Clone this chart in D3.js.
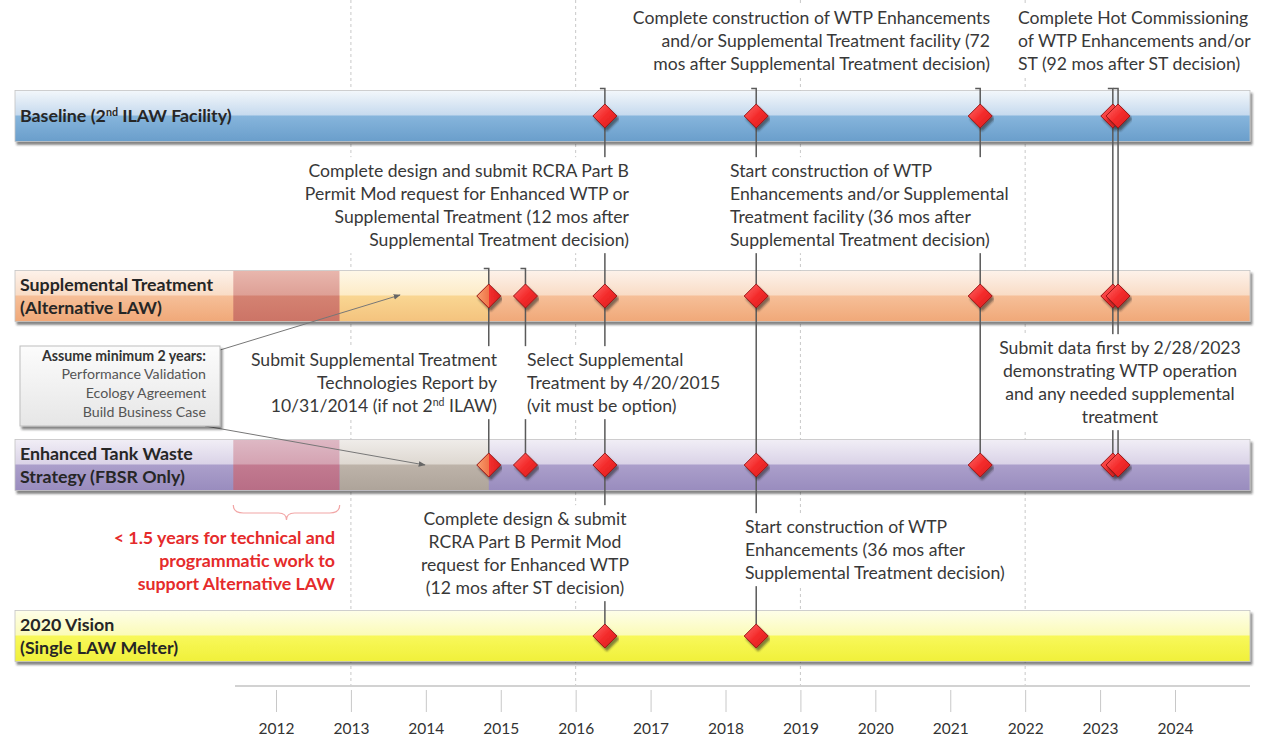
<!DOCTYPE html>
<html>
<head>
<meta charset="utf-8">
<script src="https://cdn.jsdelivr.net/npm/d3@7"></script>
<style>
  body { margin: 0; background: #fff; }
  svg { font-family: Lato, "Open Sans", sans-serif; }
</style>
</head>
<body>
<svg id="chart" width="1261" height="740"></svg>
<script>
// ---- data ----
const years = [2012, 2013, 2014, 2015, 2016, 2017, 2018, 2019, 2020, 2021, 2022, 2023, 2024];
const gridYears = [2013, 2016, 2019, 2022];

const tracks = ["Baseline", "Supplemental Treatment", "Enhanced Tank Waste Strategy", "2020 Vision"];
const trackLabels = [
  ["Baseline (2^nd ILAW Facility)"],
  ["Supplemental Treatment", "(Alternative LAW)"],
  ["Enhanced Tank Waste", "Strategy (FBSR Only)"],
  ["2020 Vision", "(Single LAW Melter)"]
];

// milestone dates (decimal years) and the tracks each one sits on
const milestoneDates = [2014.84, 2015.33, 2016.39, 2018.41, 2021.40, 2023.17, 2023.24];
const milestoneTracks = [
  ["Supplemental Treatment", "Enhanced Tank Waste Strategy"],
  ["Supplemental Treatment", "Enhanced Tank Waste Strategy"],
  ["Baseline", "Supplemental Treatment", "Enhanced Tank Waste Strategy", "2020 Vision"],
  ["Baseline", "Supplemental Treatment", "Enhanced Tank Waste Strategy", "2020 Vision"],
  ["Baseline", "Supplemental Treatment", "Enhanced Tank Waste Strategy"],
  ["Baseline", "Supplemental Treatment", "Enhanced Tank Waste Strategy"],
  ["Baseline", "Supplemental Treatment", "Enhanced Tank Waste Strategy"]
];
const partialMilestone = 2014.84;   // drawn half faded on the alternative tracks

const workPeriod = [2011.43, 2012.85];        // < 1.5 years technical work
const validationPeriod = [2012.85, 2014.84];  // minimum 2 years

const annotationTexts = [
  ["Complete construction of WTP Enhancements", "and/or Supplemental Treatment facility (72", "mos after Supplemental Treatment decision)"],
  ["Complete Hot Commissioning", "of WTP Enhancements and/or", "ST (92 mos after ST decision)"],
  ["Complete design and submit RCRA Part B", "Permit Mod request for Enhanced WTP or", "Supplemental Treatment (12 mos after", "Supplemental Treatment decision)"],
  ["Start construction of WTP", "Enhancements and/or Supplemental", "Treatment facility (36 mos after", "Supplemental Treatment decision)"],
  ["Submit Supplemental Treatment", "Technologies Report by", "10/31/2014 (if not 2^nd ILAW)"],
  ["Select Supplemental", "Treatment by 4/20/2015", "(vit must be option)"],
  ["Submit data first by 2/28/2023", "demonstrating WTP operation", "and any needed supplemental", "treatment"],
  ["Complete design & submit", "RCRA Part B Permit Mod", "request for Enhanced WTP", "(12 mos after ST decision)"],
  ["Start construction of WTP", "Enhancements (36 mos after", "Supplemental Treatment decision)"]
];
const workNote = ["< 1.5 years for technical and", "programmatic work to", "support Alternative LAW"];
const assumeTitle = "Assume minimum 2 years:";
const assumeItems = ["Performance Validation", "Ecology Agreement", "Build Business Case"];

// ---- layout / style ----
const barLeft = 15, barRight = 1250, barH = 51;
const svg = d3.select("#chart");
const defs = svg.append("defs");

const x = d3.scaleLinear().domain([2012, 2024]).range([276, 1175]);
const y = d3.scaleOrdinal().domain(tracks).range([116, 296, 465, 636]);

const barStops = {
  "Baseline": ["#f3f7fb", "#c6daee", "#86b5dc", "#6a9ecb"],
  "Supplemental Treatment": ["#fdf2ea", "#f9dcc6", "#f6bf98", "#f0a878"],
  "Enhanced Tank Waste Strategy": ["#f1eef6", "#dad3e7", "#ab9fcb", "#998cbe"],
  "2020 Vision": ["#fefee9", "#fbfbb8", "#f8f85a", "#f0f03a"]
};
const workStops = {
  "Supplemental Treatment": ["#e8b6ad", "#dea096", "#d48272", "#cc7466"],
  "Enhanced Tank Waste Strategy": ["#deb8c4", "#d4a3b2", "#c27a90", "#b86e86"]
};
const validStops = {
  "Supplemental Treatment": ["#fef7e8", "#fdebc6", "#f9d692", "#f4c37e"],
  "Enhanced Tank Waste Strategy": ["#efece9", "#ded8d1", "#bdb3a9", "#aea49a"]
};

function vGrad(id, stops) {
  const g = defs.append("linearGradient").attr("id", id)
    .attr("x1", 0).attr("y1", 0).attr("x2", 0).attr("y2", 1);
  [0, 0.48, 0.5, 1].forEach((o, i) => g.append("stop").attr("offset", o).attr("stop-color", stops[i]));
}
tracks.forEach((t, i) => vGrad("bar" + i, barStops[t]));
Object.keys(workStops).forEach(t => vGrad("work" + tracks.indexOf(t), workStops[t]));
Object.keys(validStops).forEach(t => vGrad("valid" + tracks.indexOf(t), validStops[t]));

const dg = defs.append("linearGradient").attr("id", "diamond")
  .attr("x1", 0).attr("y1", 0).attr("x2", 1).attr("y2", 1);
dg.append("stop").attr("offset", 0).attr("stop-color", "#ff6a6a");
dg.append("stop").attr("offset", 0.5).attr("stop-color", "#f42c2c");
dg.append("stop").attr("offset", 1).attr("stop-color", "#d81c1c");
const hg = defs.append("linearGradient").attr("id", "diamondHalf")
  .attr("x1", 0).attr("y1", 0).attr("x2", 1).attr("y2", 0);
hg.append("stop").attr("offset", 0).attr("stop-color", "#f7a070");
hg.append("stop").attr("offset", 0.5).attr("stop-color", "#f07448");
hg.append("stop").attr("offset", 0.5).attr("stop-color", "#f43030");
hg.append("stop").attr("offset", 1).attr("stop-color", "#dc1e1e");
const boxG = defs.append("linearGradient").attr("id", "boxGrad")
  .attr("x1", 0).attr("y1", 0).attr("x2", 0).attr("y2", 1);
boxG.append("stop").attr("offset", 0).attr("stop-color", "#fcfcfc");
boxG.append("stop").attr("offset", 1).attr("stop-color", "#e6e6e6");

const shadow = defs.append("filter").attr("id", "shadow")
  .attr("x", "-5%").attr("y", "-20%").attr("width", "110%").attr("height", "160%");
shadow.append("feDropShadow").attr("dx", 2).attr("dy", 3).attr("stdDeviation", 1.2)
  .attr("flood-color", "#222").attr("flood-opacity", 0.55);

defs.append("marker").attr("id", "arrow")
  .attr("viewBox", "0 0 10 10").attr("refX", 9).attr("refY", 5)
  .attr("markerWidth", 7).attr("markerHeight", 7).attr("orient", "auto")
  .append("path").attr("d", "M0,1 L10,5 L0,9 Z").attr("fill", "#666");

// text with ^sup support
function addLine(textSel, str, size) {
  const parts = str.split(/\^(\w+)/);
  parts.forEach((p, i) => {
    if (!p) return;
    if (i % 2 === 1) {
      textSel.append("tspan").attr("font-size", size * 0.6).attr("baseline-shift", "super").text(p);
    } else {
      textSel.append("tspan").text(p);
    }
  });
}

// ---- grid lines ----
svg.append("g").selectAll("line").data(gridYears).join("line")
  .attr("x1", d => x(d)).attr("x2", d => x(d))
  .attr("y1", 0).attr("y2", 690)
  .attr("stroke", "#c8c8c8").attr("stroke-width", 1).attr("stroke-dasharray", "3,3");

// ---- bars ----
const bars = svg.append("g");
tracks.forEach((t, i) => {
  const top = y(t) - barH / 2;
  const g = bars.append("g");
  g.append("rect").attr("x", barLeft).attr("y", top).attr("width", barRight - barLeft).attr("height", barH)
    .attr("fill", `url(#bar${i})`).attr("stroke", "#c4c4c4").attr("stroke-width", 0.8)
    .attr("filter", "url(#shadow)");
  if (workStops[t]) {
    g.append("rect").attr("x", x(workPeriod[0])).attr("y", top + 0.5)
      .attr("width", x(workPeriod[1]) - x(workPeriod[0])).attr("height", barH - 1)
      .attr("fill", `url(#work${i})`);
    g.append("rect").attr("x", x(validationPeriod[0])).attr("y", top + 0.5)
      .attr("width", x(validationPeriod[1]) - x(validationPeriod[0])).attr("height", barH - 1)
      .attr("fill", `url(#valid${i})`);
  }
});

// ---- connector lines ----
const conn = svg.append("g").attr("stroke", "#5a5a5a").attr("stroke-width", 1.5).attr("fill", "none");
milestoneDates.forEach((d, i) => {
  const ts = milestoneTracks[i];
  const yTop = y(ts[0]) - barH / 2 - 2;
  const yBot = y(ts[ts.length - 1]);
  conn.append("path").attr("d", `M${x(d) - 5},${yTop} H${x(d)} V${yBot}`);
});

// ---- annotations (white boxes hide the connectors) ----
const annLayout = [
  { x: 990, y: 18, anchor: "end" },
  { x: 1018, y: 18, anchor: "start" },
  { x: 629, y: 171, anchor: "end" },
  { x: 730, y: 171, anchor: "start" },
  { x: 497, y: 360, anchor: "end" },
  { x: 527, y: 360, anchor: "start" },
  { x: 1120, y: 348, anchor: "middle" },
  { x: 525, y: 519, anchor: "middle" },
  { x: 745, y: 527, anchor: "start" }
];
const annFont = 17.6, annLH = 23;
const ann = svg.append("g");
annotationTexts.forEach((lines, i) => {
  const L = annLayout[i];
  const g = ann.append("g");
  const bg = g.append("rect").attr("fill", "#fff");
  const t = g.append("text").attr("font-size", annFont).attr("fill", "#383838")
    .attr("text-anchor", L.anchor);
  lines.forEach((ln, j) => {
    const tl = t.append("tspan").attr("x", L.x).attr("y", L.y + j * annLH).attr("dy", "0.35em");
    addLine(tl, ln, annFont);
  });
  const b = t.node().getBBox();
  bg.attr("x", b.x - 4).attr("y", b.y - 3).attr("width", b.width + 8).attr("height", b.height + 6);
});

// ---- diamonds ----
const dSize = 12;
const diamondPath = `M0,${-dSize} L${dSize},0 L0,${dSize} L${-dSize},0 Z`;
const diamondData = [];
milestoneDates.forEach((d, i) => milestoneTracks[i].forEach(t => diamondData.push({ date: d, track: t })));
svg.append("g").selectAll("path").data(diamondData).join("path")
  .attr("d", diamondPath)
  .attr("transform", d => `translate(${x(d.date)},${y(d.track)})`)
  .attr("fill", d => d.date === partialMilestone ? "url(#diamondHalf)" : "url(#diamond)")
  .attr("stroke", "#9a1414").attr("stroke-width", 1)
  .attr("filter", "url(#shadow)");

// ---- track labels ----
const labelFont = 17.8;
tracks.forEach((t, i) => {
  const lines = trackLabels[i];
  const t0 = svg.append("text").attr("font-size", labelFont).attr("font-weight", "bold").attr("fill", "#262626");
  lines.forEach((ln, j) => {
    const tl = t0.append("tspan").attr("x", 20)
      .attr("y", y(t) + (j - (lines.length - 1) / 2) * 23).attr("dy", "0.35em");
    addLine(tl, ln, labelFont);
  });
});

// ---- assumption box + arrows ----
const box = { x: 20, y: 346, w: 200, h: 80 };
svg.append("line").attr("x1", box.x + box.w).attr("y1", box.y + 4).attr("x2", 400).attr("y2", 295)
  .attr("stroke", "#777").attr("stroke-width", 1).attr("marker-end", "url(#arrow)");
svg.append("line").attr("x1", box.x + box.w - 15).attr("y1", box.y + box.h).attr("x2", 425).attr("y2", 465)
  .attr("stroke", "#777").attr("stroke-width", 1).attr("marker-end", "url(#arrow)");
svg.append("rect").attr("x", box.x).attr("y", box.y).attr("width", box.w).attr("height", box.h)
  .attr("fill", "url(#boxGrad)").attr("stroke", "#bdbdbd").attr("filter", "url(#shadow)");
const bt = svg.append("text").attr("text-anchor", "end").attr("font-size", 14.2).attr("fill", "#555");
bt.append("tspan").attr("x", box.x + 186).attr("y", box.y + 10).attr("dy", "0.35em")
  .attr("font-weight", "bold").attr("fill", "#333").text(assumeTitle);
assumeItems.forEach((s, j) => bt.append("tspan").attr("x", box.x + 186)
  .attr("y", box.y + 28.5 + j * 18.6).attr("dy", "0.35em").text(s));

// ---- brace + red note ----
const bx0 = x(workPeriod[0]), bx1 = x(workPeriod[1]), bm = (bx0 + bx1) / 2, by = 505;
svg.append("path")
  .attr("d", `M${bx0},${by} q0,8 10,8 H${bm - 8} q8,0 8,7 q0,-7 8,-7 H${bx1 - 10} q10,0 10,-8`)
  .attr("fill", "none").attr("stroke", "#f2a6a6").attr("stroke-width", 1.2);
const rt = svg.append("text").attr("text-anchor", "end").attr("font-size", 17.8)
  .attr("font-weight", "bold").attr("fill", "#e52b2b");
workNote.forEach((s, j) => rt.append("tspan").attr("x", 335).attr("y", 538 + j * 23).attr("dy", "0.35em").text(s));

// ---- axis ----
svg.append("line").attr("x1", 235).attr("x2", barRight).attr("y1", 686).attr("y2", 686)
  .attr("stroke", "#d2d2d2").attr("stroke-width", 2);
const axis = svg.append("g").attr("transform", "translate(0,690)")
  .call(d3.axisBottom(x).tickValues(years).tickFormat(d3.format("d")).tickSize(22).tickPadding(11));
axis.select(".domain").remove();
axis.selectAll(".tick line").attr("stroke", "#c8c8c8");
axis.selectAll(".tick text").attr("font-size", 15.5).attr("fill", "#333")
  .attr("font-family", "Lato, 'Open Sans', sans-serif");
</script>
</body>
</html>
